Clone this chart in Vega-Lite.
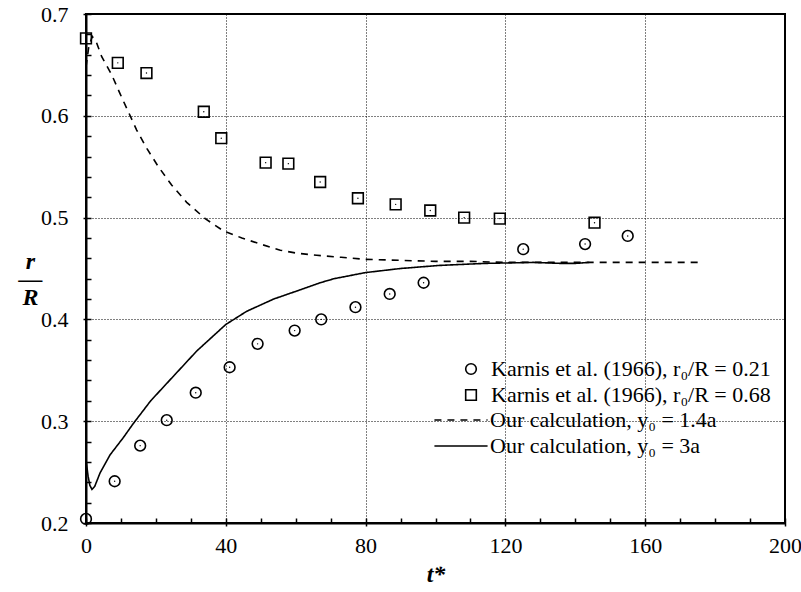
{
  "$schema": "https://vega.github.io/schema/vega-lite/v6.json",
  "autosize": "none",
  "padding": {"left": 86, "top": 14, "right": 16, "bottom": 69},
  "width": 699,
  "height": 509,
  "background": "white",
  "config": {
    "view": {"stroke": "#000", "strokeWidth": 2},
    "font": "Liberation Serif",
    "axis": {
      "labelFont": "Liberation Serif",
      "labelFontSize": 22,
      "labelColor": "#000",
      "domainColor": "#000",
      "domainWidth": 2,
      "tickColor": "#000",
      "tickWidth": 1.5,
      "gridColor": "#000",
      "gridDash": [1, 2],
      "gridWidth": 1,
      "labelOverlap": false,
      "labelFlush": false,
      "titleFont": "Liberation Serif",
      "titleColor": "#000"
    },
    "legend": {
      "labelFont": "Liberation Serif",
      "labelFontSize": 22,
      "labelColor": "#000",
      "labelLimit": 500,
      "padding": 0
    }
  },
  "resolve": {"axis": {"x": "independent", "y": "independent"}},
  "datasets": {
    "pts": [
      {"series": "Karnis et al. (1966), r₀/R = 0.21", "t": 0, "r": 0.204},
      {"series": "Karnis et al. (1966), r₀/R = 0.21", "t": 8.2, "r": 0.241},
      {"series": "Karnis et al. (1966), r₀/R = 0.21", "t": 15.5, "r": 0.276},
      {"series": "Karnis et al. (1966), r₀/R = 0.21", "t": 23.1, "r": 0.301},
      {"series": "Karnis et al. (1966), r₀/R = 0.21", "t": 31.4, "r": 0.328},
      {"series": "Karnis et al. (1966), r₀/R = 0.21", "t": 41.1, "r": 0.353},
      {"series": "Karnis et al. (1966), r₀/R = 0.21", "t": 49.1, "r": 0.376},
      {"series": "Karnis et al. (1966), r₀/R = 0.21", "t": 59.7, "r": 0.389},
      {"series": "Karnis et al. (1966), r₀/R = 0.21", "t": 67.3, "r": 0.400},
      {"series": "Karnis et al. (1966), r₀/R = 0.21", "t": 77.1, "r": 0.412},
      {"series": "Karnis et al. (1966), r₀/R = 0.21", "t": 86.9, "r": 0.425},
      {"series": "Karnis et al. (1966), r₀/R = 0.21", "t": 96.6, "r": 0.436},
      {"series": "Karnis et al. (1966), r₀/R = 0.21", "t": 125.1, "r": 0.469},
      {"series": "Karnis et al. (1966), r₀/R = 0.21", "t": 142.8, "r": 0.474},
      {"series": "Karnis et al. (1966), r₀/R = 0.21", "t": 155.0, "r": 0.482},
      {"series": "Karnis et al. (1966), r₀/R = 0.68", "t": 0, "r": 0.676},
      {"series": "Karnis et al. (1966), r₀/R = 0.68", "t": 9.1, "r": 0.652},
      {"series": "Karnis et al. (1966), r₀/R = 0.68", "t": 17.3, "r": 0.642},
      {"series": "Karnis et al. (1966), r₀/R = 0.68", "t": 33.7, "r": 0.604},
      {"series": "Karnis et al. (1966), r₀/R = 0.68", "t": 38.7, "r": 0.578},
      {"series": "Karnis et al. (1966), r₀/R = 0.68", "t": 51.4, "r": 0.554},
      {"series": "Karnis et al. (1966), r₀/R = 0.68", "t": 57.9, "r": 0.553},
      {"series": "Karnis et al. (1966), r₀/R = 0.68", "t": 67.0, "r": 0.535},
      {"series": "Karnis et al. (1966), r₀/R = 0.68", "t": 77.8, "r": 0.519},
      {"series": "Karnis et al. (1966), r₀/R = 0.68", "t": 88.6, "r": 0.513},
      {"series": "Karnis et al. (1966), r₀/R = 0.68", "t": 98.5, "r": 0.507},
      {"series": "Karnis et al. (1966), r₀/R = 0.68", "t": 108.2, "r": 0.500},
      {"series": "Karnis et al. (1966), r₀/R = 0.68", "t": 118.4, "r": 0.499},
      {"series": "Karnis et al. (1966), r₀/R = 0.68", "t": 145.5, "r": 0.495}
    ],
    "lines": [
      {"series": "Our calculation, y₀ = 1.4a", "t": 0, "r": 0.648},
      {"series": "Our calculation, y₀ = 1.4a", "t": 0.8, "r": 0.668},
      {"series": "Our calculation, y₀ = 1.4a", "t": 1.8, "r": 0.678},
      {"series": "Our calculation, y₀ = 1.4a", "t": 3, "r": 0.672},
      {"series": "Our calculation, y₀ = 1.4a", "t": 4.5, "r": 0.658},
      {"series": "Our calculation, y₀ = 1.4a", "t": 7.4, "r": 0.640},
      {"series": "Our calculation, y₀ = 1.4a", "t": 9.7, "r": 0.622},
      {"series": "Our calculation, y₀ = 1.4a", "t": 12.1, "r": 0.604},
      {"series": "Our calculation, y₀ = 1.4a", "t": 14.5, "r": 0.586},
      {"series": "Our calculation, y₀ = 1.4a", "t": 17.4, "r": 0.568},
      {"series": "Our calculation, y₀ = 1.4a", "t": 20.7, "r": 0.550},
      {"series": "Our calculation, y₀ = 1.4a", "t": 24.5, "r": 0.532},
      {"series": "Our calculation, y₀ = 1.4a", "t": 28.8, "r": 0.515},
      {"series": "Our calculation, y₀ = 1.4a", "t": 34.1, "r": 0.499},
      {"series": "Our calculation, y₀ = 1.4a", "t": 39.3, "r": 0.487},
      {"series": "Our calculation, y₀ = 1.4a", "t": 44.6, "r": 0.480},
      {"series": "Our calculation, y₀ = 1.4a", "t": 49.9, "r": 0.474},
      {"series": "Our calculation, y₀ = 1.4a", "t": 55.6, "r": 0.468},
      {"series": "Our calculation, y₀ = 1.4a", "t": 60.4, "r": 0.465},
      {"series": "Our calculation, y₀ = 1.4a", "t": 66, "r": 0.463},
      {"series": "Our calculation, y₀ = 1.4a", "t": 73, "r": 0.461},
      {"series": "Our calculation, y₀ = 1.4a", "t": 80, "r": 0.459},
      {"series": "Our calculation, y₀ = 1.4a", "t": 90, "r": 0.458},
      {"series": "Our calculation, y₀ = 1.4a", "t": 100, "r": 0.457},
      {"series": "Our calculation, y₀ = 1.4a", "t": 110, "r": 0.457},
      {"series": "Our calculation, y₀ = 1.4a", "t": 120, "r": 0.456},
      {"series": "Our calculation, y₀ = 1.4a", "t": 140, "r": 0.456},
      {"series": "Our calculation, y₀ = 1.4a", "t": 160, "r": 0.456},
      {"series": "Our calculation, y₀ = 1.4a", "t": 176, "r": 0.456},
      {"series": "Our calculation, y₀ = 3a", "t": 0, "r": 0.262},
      {"series": "Our calculation, y₀ = 3a", "t": 0.6, "r": 0.246},
      {"series": "Our calculation, y₀ = 3a", "t": 1.1, "r": 0.237},
      {"series": "Our calculation, y₀ = 3a", "t": 1.7, "r": 0.233},
      {"series": "Our calculation, y₀ = 3a", "t": 2.5, "r": 0.236},
      {"series": "Our calculation, y₀ = 3a", "t": 4, "r": 0.249},
      {"series": "Our calculation, y₀ = 3a", "t": 6.9, "r": 0.267},
      {"series": "Our calculation, y₀ = 3a", "t": 10.7, "r": 0.284},
      {"series": "Our calculation, y₀ = 3a", "t": 13.6, "r": 0.298},
      {"series": "Our calculation, y₀ = 3a", "t": 18.5, "r": 0.320},
      {"series": "Our calculation, y₀ = 3a", "t": 25.5, "r": 0.346},
      {"series": "Our calculation, y₀ = 3a", "t": 31.7, "r": 0.369},
      {"series": "Our calculation, y₀ = 3a", "t": 40, "r": 0.395},
      {"series": "Our calculation, y₀ = 3a", "t": 46, "r": 0.408},
      {"series": "Our calculation, y₀ = 3a", "t": 53.7, "r": 0.420},
      {"series": "Our calculation, y₀ = 3a", "t": 60.4, "r": 0.428},
      {"series": "Our calculation, y₀ = 3a", "t": 67, "r": 0.436},
      {"series": "Our calculation, y₀ = 3a", "t": 71, "r": 0.440},
      {"series": "Our calculation, y₀ = 3a", "t": 80, "r": 0.446},
      {"series": "Our calculation, y₀ = 3a", "t": 90, "r": 0.450},
      {"series": "Our calculation, y₀ = 3a", "t": 101, "r": 0.453},
      {"series": "Our calculation, y₀ = 3a", "t": 114, "r": 0.455},
      {"series": "Our calculation, y₀ = 3a", "t": 128, "r": 0.456},
      {"series": "Our calculation, y₀ = 3a", "t": 136, "r": 0.455},
      {"series": "Our calculation, y₀ = 3a", "t": 140, "r": 0.455},
      {"series": "Our calculation, y₀ = 3a", "t": 144, "r": 0.456}
    ]
  },
  "layer": [
    {
      "data": {"name": "lines"},
      "mark": {"type": "line", "color": "#000", "strokeWidth": 1.6},
      "encoding": {
        "x": {
          "field": "t", "type": "quantitative",
          "scale": {"domain": [0, 200], "nice": false},
          "axis": {
            "orient": "bottom",
            "values": [0, 40, 80, 120, 160, 200],
            "grid": true,
            "tickSize": 3,
            "labelPadding": 9,
            "title": "t*",
            "titleFontSize": 24,
            "titleFontStyle": "italic",
            "titleFontWeight": "bold",
            "titlePadding": 6
          }
        },
        "y": {
          "field": "r", "type": "quantitative",
          "scale": {"domain": [0.2, 0.7], "nice": false},
          "axis": {
            "orient": "left",
            "values": [0.2, 0.3, 0.4, 0.5, 0.6, 0.7],
            "format": ".1f",
            "grid": true,
            "tickSize": 3,
            "labelPadding": 15,
            "title": ["r", "—", "R"],
            "titleFontSize": 24,
            "titleFontStyle": "italic",
            "titleFontWeight": "bold",
            "titleAngle": 0,
            "titleAlign": "center",
            "titleBaseline": "middle",
            "titleLineHeight": 18,
            "titleX": -56,
            "titleY": 247
          }
        },
        "strokeDash": {
          "field": "series", "type": "nominal",
          "scale": {"domain": ["Our calculation, y₀ = 1.4a", "Our calculation, y₀ = 3a"], "range": [[7, 6], [1, 0]]},
          "legend": {
            "title": null,
            "orient": "none",
            "legendX": 364,
            "legendY": 395,
            "symbolType": "M-5,0H5",
            "symbolSize": 113,
            "symbolStrokeWidth": 1.6,
            "symbolStrokeColor": "#000",
            "labelOffset": 18,
            "rowPadding": 4
          }
        }
      }
    },
    {
      "data": {"name": "pts"},
      "mark": {"type": "point", "filled": false, "color": "#000", "strokeWidth": 1.6, "opacity": 1},
      "encoding": {
        "x": {"field": "t", "type": "quantitative", "axis": null},
        "y": {"field": "r", "type": "quantitative", "axis": null},
        "shape": {
          "field": "series", "type": "nominal",
          "scale": {"domain": ["Karnis et al. (1966), r₀/R = 0.21", "Karnis et al. (1966), r₀/R = 0.68"], "range": ["circle", "square"]},
          "legend": {
            "title": null,
            "orient": "none",
            "legendX": 374,
            "legendY": 344,
            "symbolSize": 113,
            "symbolStrokeWidth": 1.6,
            "symbolStrokeColor": "#000",
            "symbolFillColor": "transparent",
            "labelOffset": 9,
            "rowPadding": 4
          }
        },
        "size": {"value": 115}
      }
    },
    {
      "data": {"name": "pts"},
      "mark": {"type": "point", "filled": true, "color": "#000", "size": 2, "opacity": 1},
      "encoding": {
        "x": {
          "field": "t", "type": "quantitative",
          "axis": {
            "orient": "bottom",
            "values": [0,10,20,30,40,50,60,70,80,90,100,110,120,130,140,150,160,170,180,190,200],
            "labels": false,
            "grid": false,
            "domain": false,
            "tickSize": -5,
            "title": null
          }
        },
        "y": {
          "field": "r", "type": "quantitative",
          "axis": {
            "orient": "left",
            "values": [0.2,0.22,0.24,0.26,0.28,0.3,0.32,0.34,0.36,0.38,0.4,0.42,0.44,0.46,0.48,0.5,0.52,0.54,0.56,0.58,0.6,0.62,0.64,0.66,0.68,0.7],
            "labels": false,
            "grid": false,
            "domain": false,
            "tickSize": -5,
            "title": null
          }
        }
      }
    }
  ]
}
